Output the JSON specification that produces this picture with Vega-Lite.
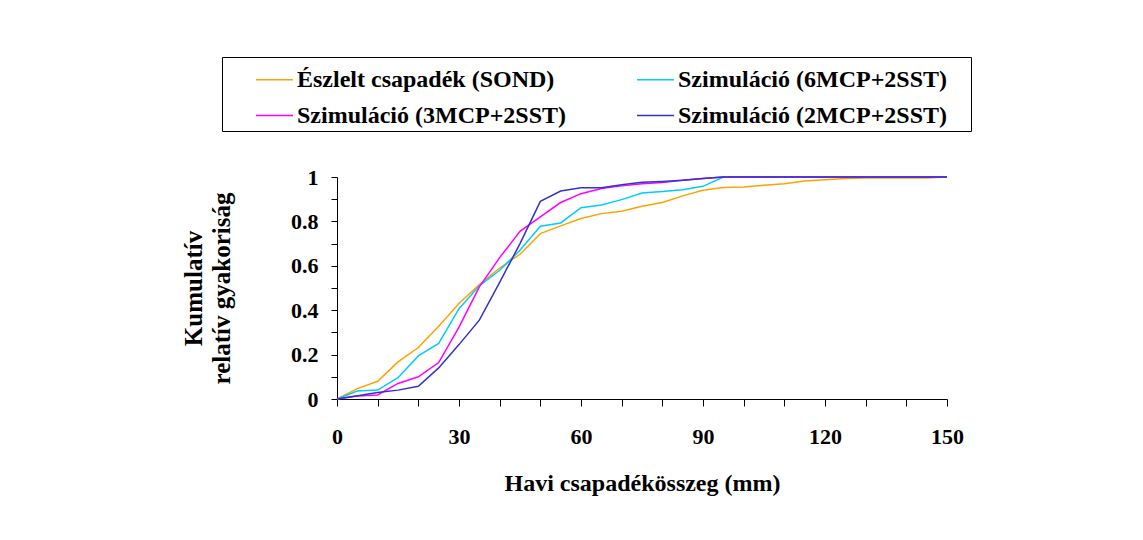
{
  "$schema": "https://vega.github.io/schema/vega-lite/v6.json",
  "width": 610,
  "height": 222,
  "autosize": {"type": "none"},
  "padding": {"left": 337, "top": 177, "right": 196, "bottom": 141},
  "background": "white",
  "data": {
    "values": [
      {"mm": 0, "Észlelt csapadék (SOND)": 0, "Szimuláció (6MCP+2SST)": 0, "Szimuláció (3MCP+2SST)": 0, "Szimuláció (2MCP+2SST)": 0},
      {"mm": 5, "Észlelt csapadék (SOND)": 0.047, "Szimuláció (6MCP+2SST)": 0.036, "Szimuláció (3MCP+2SST)": 0.014, "Szimuláció (2MCP+2SST)": 0.015},
      {"mm": 10, "Észlelt csapadék (SOND)": 0.08, "Szimuláció (6MCP+2SST)": 0.04, "Szimuláció (3MCP+2SST)": 0.018, "Szimuláció (2MCP+2SST)": 0.029},
      {"mm": 15, "Észlelt csapadék (SOND)": 0.167, "Szimuláció (6MCP+2SST)": 0.096, "Szimuláció (3MCP+2SST)": 0.07, "Szimuláció (2MCP+2SST)": 0.04},
      {"mm": 20, "Észlelt csapadék (SOND)": 0.232, "Szimuláció (6MCP+2SST)": 0.194, "Szimuláció (3MCP+2SST)": 0.1, "Szimuláció (2MCP+2SST)": 0.057},
      {"mm": 25, "Észlelt csapadék (SOND)": 0.328, "Szimuláció (6MCP+2SST)": 0.25, "Szimuláció (3MCP+2SST)": 0.164, "Szimuláció (2MCP+2SST)": 0.14},
      {"mm": 30, "Észlelt csapadék (SOND)": 0.43, "Szimuláció (6MCP+2SST)": 0.407, "Szimuláció (3MCP+2SST)": 0.324, "Szimuláció (2MCP+2SST)": 0.245},
      {"mm": 35, "Észlelt csapadék (SOND)": 0.515, "Szimuláció (6MCP+2SST)": 0.51, "Szimuláció (3MCP+2SST)": 0.505, "Szimuláció (2MCP+2SST)": 0.355},
      {"mm": 40, "Észlelt csapadék (SOND)": 0.59, "Szimuláció (6MCP+2SST)": 0.58, "Szimuláció (3MCP+2SST)": 0.637, "Szimuláció (2MCP+2SST)": 0.525},
      {"mm": 45, "Észlelt csapadék (SOND)": 0.652, "Szimuláció (6MCP+2SST)": 0.67, "Szimuláció (3MCP+2SST)": 0.755, "Szimuláció (2MCP+2SST)": 0.7},
      {"mm": 50, "Észlelt csapadék (SOND)": 0.745, "Szimuláció (6MCP+2SST)": 0.778, "Szimuláció (3MCP+2SST)": 0.82, "Szimuláció (2MCP+2SST)": 0.89},
      {"mm": 55, "Észlelt csapadék (SOND)": 0.78, "Szimuláció (6MCP+2SST)": 0.793, "Szimuláció (3MCP+2SST)": 0.885, "Szimuláció (2MCP+2SST)": 0.937},
      {"mm": 60, "Észlelt csapadék (SOND)": 0.813, "Szimuláció (6MCP+2SST)": 0.862, "Szimuláció (3MCP+2SST)": 0.925, "Szimuláció (2MCP+2SST)": 0.952},
      {"mm": 65, "Észlelt csapadék (SOND)": 0.835, "Szimuláció (6MCP+2SST)": 0.874, "Szimuláció (3MCP+2SST)": 0.948, "Szimuláció (2MCP+2SST)": 0.952},
      {"mm": 70, "Észlelt csapadék (SOND)": 0.846, "Szimuláció (6MCP+2SST)": 0.898, "Szimuláció (3MCP+2SST)": 0.96, "Szimuláció (2MCP+2SST)": 0.965},
      {"mm": 75, "Észlelt csapadék (SOND)": 0.868, "Szimuláció (6MCP+2SST)": 0.928, "Szimuláció (3MCP+2SST)": 0.97, "Szimuláció (2MCP+2SST)": 0.976},
      {"mm": 80, "Észlelt csapadék (SOND)": 0.885, "Szimuláció (6MCP+2SST)": 0.935, "Szimuláció (3MCP+2SST)": 0.975, "Szimuláció (2MCP+2SST)": 0.98},
      {"mm": 85, "Észlelt csapadék (SOND)": 0.915, "Szimuláció (6MCP+2SST)": 0.943, "Szimuláció (3MCP+2SST)": 0.985, "Szimuláció (2MCP+2SST)": 0.985},
      {"mm": 90, "Észlelt csapadék (SOND)": 0.94, "Szimuláció (6MCP+2SST)": 0.958, "Szimuláció (3MCP+2SST)": 0.993, "Szimuláció (2MCP+2SST)": 0.993},
      {"mm": 95, "Észlelt csapadék (SOND)": 0.953, "Szimuláció (6MCP+2SST)": 1, "Szimuláció (3MCP+2SST)": 1, "Szimuláció (2MCP+2SST)": 1},
      {"mm": 100, "Észlelt csapadék (SOND)": 0.955, "Szimuláció (6MCP+2SST)": 1, "Szimuláció (3MCP+2SST)": 1, "Szimuláció (2MCP+2SST)": 1},
      {"mm": 105, "Észlelt csapadék (SOND)": 0.963, "Szimuláció (6MCP+2SST)": 1, "Szimuláció (3MCP+2SST)": 1, "Szimuláció (2MCP+2SST)": 1},
      {"mm": 110, "Észlelt csapadék (SOND)": 0.97, "Szimuláció (6MCP+2SST)": 1, "Szimuláció (3MCP+2SST)": 1, "Szimuláció (2MCP+2SST)": 1},
      {"mm": 115, "Észlelt csapadék (SOND)": 0.982, "Szimuláció (6MCP+2SST)": 1, "Szimuláció (3MCP+2SST)": 1, "Szimuláció (2MCP+2SST)": 1},
      {"mm": 120, "Észlelt csapadék (SOND)": 0.988, "Szimuláció (6MCP+2SST)": 1, "Szimuláció (3MCP+2SST)": 1, "Szimuláció (2MCP+2SST)": 1},
      {"mm": 125, "Észlelt csapadék (SOND)": 0.993, "Szimuláció (6MCP+2SST)": 1, "Szimuláció (3MCP+2SST)": 1, "Szimuláció (2MCP+2SST)": 1},
      {"mm": 130, "Észlelt csapadék (SOND)": 0.995, "Szimuláció (6MCP+2SST)": 1, "Szimuláció (3MCP+2SST)": 1, "Szimuláció (2MCP+2SST)": 1},
      {"mm": 135, "Észlelt csapadék (SOND)": 0.995, "Szimuláció (6MCP+2SST)": 1, "Szimuláció (3MCP+2SST)": 1, "Szimuláció (2MCP+2SST)": 1},
      {"mm": 140, "Észlelt csapadék (SOND)": 0.995, "Szimuláció (6MCP+2SST)": 1, "Szimuláció (3MCP+2SST)": 1, "Szimuláció (2MCP+2SST)": 1},
      {"mm": 145, "Észlelt csapadék (SOND)": 0.995, "Szimuláció (6MCP+2SST)": 1, "Szimuláció (3MCP+2SST)": 1, "Szimuláció (2MCP+2SST)": 1},
      {"mm": 150, "Észlelt csapadék (SOND)": 1, "Szimuláció (6MCP+2SST)": 1, "Szimuláció (3MCP+2SST)": 1, "Szimuláció (2MCP+2SST)": 1}
    ]
  },
  "transform": [
    {"fold": ["Észlelt csapadék (SOND)", "Szimuláció (6MCP+2SST)", "Szimuláció (3MCP+2SST)", "Szimuláció (2MCP+2SST)"], "as": ["series", "value"]}
  ],
  "mark": {"type": "line", "strokeWidth": 1.5},
  "encoding": {
    "x": {
      "field": "mm", "type": "quantitative",
      "scale": {"domain": [0, 150], "nice": false, "zero": true},
      "axis": {
        "title": "Havi csapadékösszeg (mm)",
        "values": [0, 10, 20, 30, 40, 50, 60, 70, 80, 90, 100, 110, 120, 130, 140, 150],
        "labelExpr": "datum.value % 30 === 0 ? datum.label : ''",
        "labelFlush": false,
        "grid": false, "tickSize": 7, "labelPadding": 20,
        "titleFontSize": 24,
        "titleBaseline": "middle", "titleY": 84, "titleX": 305
      }
    },
    "y": {
      "field": "value", "type": "quantitative",
      "scale": {"domain": [0, 1], "nice": false},
      "axis": {
        "title": ["Kumulatív", "relatív gyakoriság"],
        "values": [0, 0.1, 0.2, 0.3, 0.4, 0.5, 0.6, 0.7, 0.8, 0.9, 1],
        "labelExpr": "round(datum.value * 10) % 2 === 0 ? format(datum.value, '~g') : ''",
        "labelFlush": false,
        "grid": false, "tickSize": 6, "labelPadding": 13,
        "titleFontSize": 25, "titleLineHeight": 28,
        "titleX": -136, "titleY": 111, "titleAlign": "center", "titleAngle": -90, "titleBaseline": "alphabetic"
      }
    },
    "color": {
      "field": "series", "type": "nominal",
      "scale": {
        "domain": ["Észlelt csapadék (SOND)", "Szimuláció (6MCP+2SST)", "Szimuláció (3MCP+2SST)", "Szimuláció (2MCP+2SST)"],
        "range": ["#FFA200", "#00CCFF", "#FF00FF", "#3333CC"]
      },
      "legend": {
        "title": " ", "titleOrient": "right", "titlePadding": 21, "titleFontSize": 24,
        "orient": "none", "legendX": -115, "legendY": -120,
        "columns": 2, "direction": "horizontal",
        "symbolType": "stroke", "symbolSize": 1369, "symbolStrokeWidth": 1.5,
        "labelFont": "Liberation Serif", "labelFontSize": 24, "labelFontWeight": "bold", "labelColor": "black",
        "labelLimit": 500, "labelOffset": 3,
        "strokeColor": "black", "padding": 3, "symbolOffset": 30,
        "columnPadding": 39, "rowPadding": 4
      }
    }
  },
  "config": {
    "view": {"stroke": null},
    "axis": {
      "domainColor": "black", "domainWidth": 1, "tickColor": "black", "tickWidth": 1,
      "labelFont": "Liberation Serif", "labelFontSize": 22, "labelFontWeight": "bold", "labelColor": "black",
      "titleFont": "Liberation Serif", "titleFontSize": 22, "titleFontWeight": "bold", "titleColor": "black"
    }
  }
}
